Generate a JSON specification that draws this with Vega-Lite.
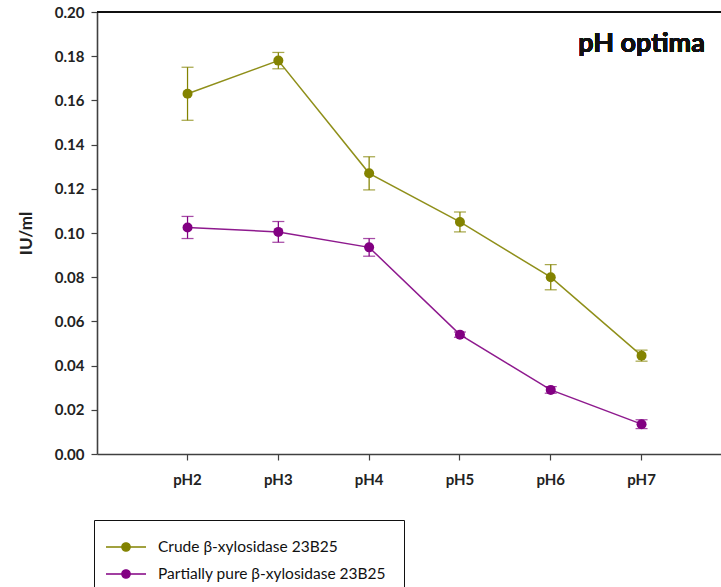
{
  "$schema": "https://vega.github.io/schema/vega-lite/v6.json",
  "width": 624,
  "height": 442,
  "autosize": {"type": "none"},
  "padding": {"left": 97, "top": 12, "right": 0, "bottom": 133},
  "background": "white",
  "config": {
    "view": {"stroke": null},
    "font": "Lato",
    "axis": {
      "domainColor": "#404040",
      "domainWidth": 1.6,
      "tickColor": "#404040",
      "tickWidth": 1.2,
      "tickSize": 6,
      "grid": false,
      "labelFont": "Lato",
      "labelFontWeight": "bold",
      "labelColor": "#222222",
      "titleFont": "Lato",
      "titleColor": "#222222"
    }
  },
  "data": {
    "values": [
      {"ph": "pH2", "series": "Crude β-xylosidase 23B25", "iu": 0.163, "sd": 0.012},
      {"ph": "pH3", "series": "Crude β-xylosidase 23B25", "iu": 0.178, "sd": 0.0037},
      {"ph": "pH4", "series": "Crude β-xylosidase 23B25", "iu": 0.127, "sd": 0.0075},
      {"ph": "pH5", "series": "Crude β-xylosidase 23B25", "iu": 0.105, "sd": 0.0045},
      {"ph": "pH6", "series": "Crude β-xylosidase 23B25", "iu": 0.080, "sd": 0.0057},
      {"ph": "pH7", "series": "Crude β-xylosidase 23B25", "iu": 0.0445, "sd": 0.0025},
      {"ph": "pH2", "series": "Partially pure β-xylosidase 23B25", "iu": 0.1025, "sd": 0.005},
      {"ph": "pH3", "series": "Partially pure β-xylosidase 23B25", "iu": 0.1005, "sd": 0.0047},
      {"ph": "pH4", "series": "Partially pure β-xylosidase 23B25", "iu": 0.0935, "sd": 0.004},
      {"ph": "pH5", "series": "Partially pure β-xylosidase 23B25", "iu": 0.054, "sd": 0.0012},
      {"ph": "pH6", "series": "Partially pure β-xylosidase 23B25", "iu": 0.029, "sd": 0.0015},
      {"ph": "pH7", "series": "Partially pure β-xylosidase 23B25", "iu": 0.0135, "sd": 0.002}
    ]
  },
  "encoding": {
    "x": {
      "field": "ph",
      "type": "nominal",
      "sort": ["pH2", "pH3", "pH4", "pH5", "pH6", "pH7"],
      "scale": {"type": "band", "paddingInner": 0, "paddingOuter": 0.436, "align": 0.57},
      "axis": {"title": null, "labelAngle": 0, "labelFontSize": 15, "labelPadding": 12}
    },
    "y": {
      "field": "iu",
      "type": "quantitative",
      "scale": {"domain": [0, 0.2], "nice": false},
      "axis": {
        "title": "IU/ml",
        "titleFontSize": 17,
        "titleFontWeight": "bold",
        "titlePadding": 19,
        "values": [0, 0.02, 0.04, 0.06, 0.08, 0.1, 0.12, 0.14, 0.16, 0.18, 0.2],
        "format": ".2f",
        "labelFontSize": 15,
        "labelPadding": 7
      }
    },
    "color": {
      "field": "series",
      "type": "nominal",
      "scale": {
        "domain": ["Crude β-xylosidase 23B25", "Partially pure β-xylosidase 23B25"],
        "range": ["#838300", "#820082"]
      },
      "legend": {
        "title": null,
        "orient": "none",
        "legendX": -3,
        "legendY": 508,
        "direction": "vertical",
        "fillColor": "white",
        "strokeColor": "#111111",
        "padding": 18,
        "rowPadding": 9,
        "symbolType": "M-2.5,0H2.5M-0.52,0A0.52,0.52 0 1,0 0.52,0A0.52,0.52 0 1,0 -0.52,0Z",
        "symbolSize": 256,
        "symbolStrokeWidth": 1.4,
        "symbolOffset": 5,
        "labelOffset": 23,
        "labelFont": "Lato",
        "labelFontSize": 15.5,
        "labelColor": "#111111",
        "labelLimit": 400,
        "encode": {
          "symbols": {
            "update": {
              "fill": {"scale": "color", "field": "value"},
              "stroke": {"scale": "color", "field": "value"},
              "opacity": {"value": 1}
            }
          }
        }
      }
    }
  },
  "layer": [
    {
      "mark": {"type": "line", "strokeWidth": 1.5, "opacity": 0.9}
    },
    {
      "mark": {
        "type": "errorbar",
        "thickness": 1.25,
        "ticks": {"size": 12}
      },
      "encoding": {
        "yError": {"field": "sd"}
      }
    },
    {
      "mark": {"type": "point", "filled": true, "size": 100, "opacity": 1}
    },
    {
      "mark": {"type": "rule", "color": "#111111", "strokeWidth": 1.4},
      "encoding": {
        "x": null,
        "color": null,
        "y": {"datum": 0.2, "type": "quantitative"}
      }
    },
    {
      "mark": {
        "type": "text",
        "text": "pH optima",
        "font": "Lato",
        "fontSize": 27,
        "fontWeight": "bold",
        "color": "#111111",
        "align": "center",
        "baseline": "middle"
      },
      "encoding": {
        "x": {"datum": "pH7"},
        "y": {"datum": 0.1855, "type": "quantitative"},
        "color": null
      }
    }
  ]
}
